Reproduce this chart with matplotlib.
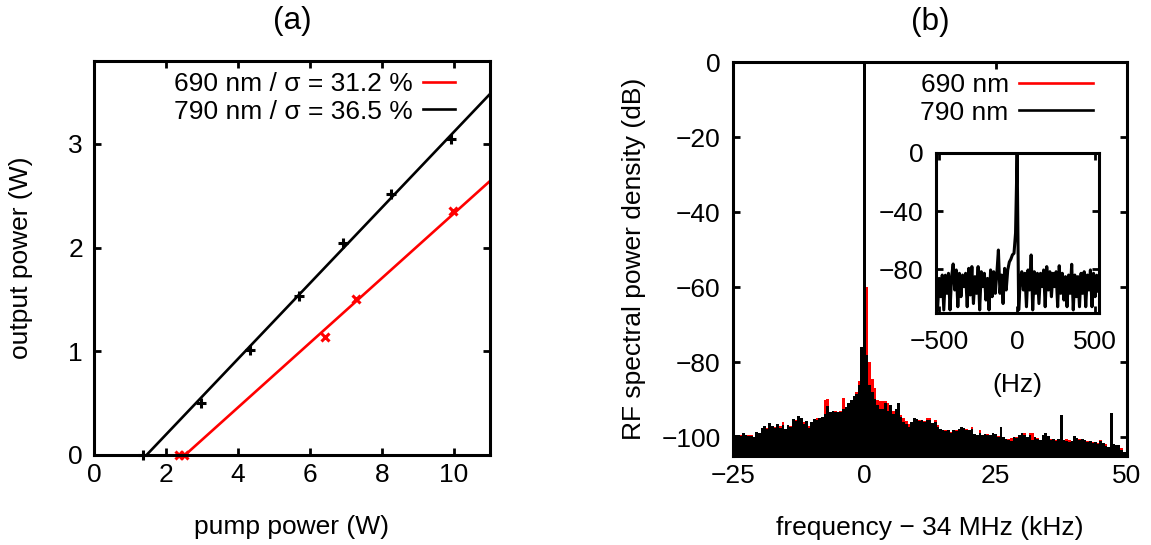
import numpy as np
import matplotlib
matplotlib.use("Agg")
import matplotlib.pyplot as plt
from matplotlib.lines import Line2D

plt.rcParams["font.family"] = ["Liberation Sans", "DejaVu Sans"]
plt.rcParams["font.size"] = 19
plt.rcParams["axes.linewidth"] = 2.2

# panel (a): slope efficiency
pump_790 = [1.37, 2.97, 4.33, 5.69, 6.91, 8.24, 9.91]
out_790 = [0.0, 0.505, 1.01, 1.53, 2.04, 2.52, 3.05]
pump_690 = [2.35, 2.50, 6.43, 7.28, 9.96]
out_690 = [0.0, 0.0, 1.14, 1.50, 2.35]
# linear fits: slope (W/W) and threshold (W)
slope_690, thresh_690 = 0.312, 2.53
slope_790, thresh_790 = 0.365, 1.46

# panel (b): RF spectrum envelope, -25 .. 50 kHz in 0.5 kHz steps
spec_790 = [
    -98.5, -99.5, -99.3, -99.6, -99.0, -99.5, -99.8, -99.6, -100.0, -98.5,
    -99.0, -97.5, -97.0, -97.8, -96.3, -97.0, -97.5, -96.4, -97.5, -96.8,
    -97.8, -96.8, -97.3, -95.2, -95.6, -94.4, -94.8, -96.5, -95.6, -97.5,
    -96.0, -95.2, -95.5, -95.0, -94.7, -93.8, -91.7, -93.2, -93.0, -93.4,
    -93.2, -93.4, -92.5, -92.0, -91.0, -90.1, -89.0, -88.4, -86.0, -76.0,
    0.0, -78.0, -86.0, -88.0, -89.7, -91.5, -92.4, -92.6, -91.0, -93.1,
    -91.4, -93.7, -92.5, -90.9, -94.6, -96.0, -96.5, -97.4, -96.0, -94.8,
    -95.1, -95.7, -95.3, -96.0, -95.5, -95.3, -96.2, -96.0, -97.4, -97.8,
    -98.2, -98.4, -98.0, -98.9, -98.2, -98.4, -97.8, -97.3, -97.6, -98.0,
    -98.2, -97.8, -99.1, -99.5, -98.9, -99.3, -99.1, -99.5, -99.3, -99.0,
    -99.2, -100.0, -97.2, -100.0, -100.5, -100.8, -101.0, -100.0, -100.2, -99.5,
    -99.0, -99.5, -99.9, -99.3, -100.8, -99.9, -100.5, -100.8, -99.5, -99.0,
    -99.8, -100.8, -100.5, -101.0, -100.5, -94.1, -100.8, -101.0, -101.2, -101.0,
    -99.8, -100.3, -100.8, -100.5, -100.8, -101.2, -101.0, -101.5, -101.2, -101.7,
    -101.0, -101.5, -102.3, -102.6, -93.5, -101.7, -102.2, -102.0, -103.5, -104.0,
    -104.5,
]
spec_690 = [
    -98.8, -99.3, -99.8, -99.4, -99.5, -99.8, -99.5, -99.3, -100.2, -99.0,
    -99.3, -97.8, -97.5, -97.6, -96.8, -97.3, -97.2, -96.8, -97.0, -95.9,
    -98.0, -97.0, -97.0, -95.8, -95.4, -94.8, -95.0, -96.0, -96.0, -97.0,
    -96.5, -95.5, -95.0, -95.3, -95.0, -90.0, -89.8, -93.5, -93.3, -93.0,
    -93.5, -93.0, -89.5, -92.3, -91.3, -90.0, -89.3, -88.0, -85.0, -78.0,
    -60.0, -60.0, -80.0, -84.5, -87.0, -90.1, -90.4, -90.3, -90.3, -91.0,
    -91.8, -93.0, -93.0, -92.0, -94.2, -95.0, -95.8, -96.5, -96.3, -95.2,
    -95.5, -95.5, -95.8, -95.8, -95.0, -95.0, -96.5, -95.5, -96.8, -98.0,
    -98.5, -98.2, -98.3, -98.6, -98.5, -98.1, -98.0, -97.6, -97.8, -97.8,
    -98.5, -97.4, -99.3, -99.3, -98.2, -99.5, -99.3, -99.2, -99.6, -99.2,
    -99.5, -99.8, -98.0, -100.2, -100.7, -100.4, -100.2, -100.3, -100.0, -99.8,
    -99.3, -99.0, -100.0, -98.8, -99.0, -100.2, -100.3, -101.0, -99.8, -99.3,
    -100.0, -100.6, -100.8, -100.8, -100.8, -100.6, -101.0, -100.6, -100.8, -101.2,
    -100.2, -100.5, -100.6, -100.8, -101.0, -101.0, -101.3, -101.3, -101.5, -101.5,
    -100.8, -101.8, -101.8, -102.8, -102.0, -102.0, -102.5, -102.3, -103.0, -104.2,
    -104.8,
]
freq_khz = np.linspace(-25, 50, len(spec_790))

# inset: 790 nm, -520 .. 520 Hz in 10 Hz steps
inset_db = [
    -95.0, -107.9, -86.2, -98.8, -83.9, -107.9, -84.0, -96.5, -82.7, -107.9,
    -85.0, -76.3, -94.2, -80.4, -105.7, -82.7, -98.8, -83.9, -91.9, -82.7,
    -105.7, -79.3, -97.6, -78.1, -103.5, -85.0, -96.5, -78.1, -107.9, -81.6,
    -91.9, -82.7, -101.1, -86.2, -107.9, -80.4, -98.8, -81.6, -96.5, -83.0,
    -66.7, -96.5, -83.9, -103.5, -79.3, -94.2, -80.4, -75.0, -73.0, -70.0,
    -69.0, -55.0, 0.0,
    -107.9, -88.0, -81.6, -94.2, -82.7, -105.7, -80.4, -94.2, -70.1, -107.9,
    -81.6, -96.5, -82.7, -103.5, -82.7, -91.9, -80.4, -105.7, -78.1, -94.2,
    -81.6, -98.8, -82.7, -91.9, -81.6, -105.7, -77.5, -96.5, -82.7, -101.1,
    -85.0, -105.7, -83.9, -96.5, -76.5, -107.9, -83.9, -98.8, -85.0, -105.7,
    -82.7, -96.5, -81.6, -105.7, -83.9, -94.2, -80.4, -105.7, -82.7, -98.8,
    -84.0, -95.0,
]
inset_hz = np.linspace(-520, 520, len(inset_db))

W, H = 1151, 545
fig = plt.figure(figsize=(W / 100, H / 100), dpi=100)


def box(l, t, r, b):
    return [l / W, 1 - b / H, (r - l) / W, (b - t) / H]


def style(ax, pad=8):
    ax.tick_params(direction="in", length=5, width=2, top=True, right=True, pad=pad)


# ---- (a)
ax1 = fig.add_axes(box(94, 61, 490, 455))
style(ax1, pad=8)
ax1.tick_params(axis="x", pad=6)
xfit = np.linspace(0, 11, 200)
ax1.plot(xfit, slope_690 * (xfit - thresh_690), color="red", lw=1.9)
ax1.plot(xfit, slope_790 * (xfit - thresh_790), color="black", lw=1.9)
ax1.plot(pump_690, out_690, "x", color="red", ms=6, mew=2.2, clip_on=False)
ax1.plot(pump_790, out_790, "+", color="black", ms=7, mew=2.2, clip_on=False)
ax1.set_xlim(0, 11)
ax1.set_ylim(0, 3.8)
ax1.set_xticks([0, 2, 4, 6, 8, 10])
ax1.set_yticks([0, 1, 2, 3])
ax1.set_xlabel("pump power (W)", labelpad=20)
ax1.set_ylabel("output power (W)", labelpad=25)
ax1.set_title("(a)", pad=23)
h1 = [Line2D([], [], color="red", lw=1.9), Line2D([], [], color="black", lw=1.9)]
ax1.legend(h1, ["690 nm / σ = 31.2 %", "790 nm / σ = 36.5 %"], loc="upper right",
           bbox_to_anchor=(0.912, 0.972), frameon=False, markerfirst=False,
           handlelength=1.2, handletextpad=0.4, labelspacing=0.14, borderpad=0,
           borderaxespad=0)

# ---- (b)
ax2 = fig.add_axes(box(733, 62, 1127, 456))
style(ax2, pad=9)
ax2.tick_params(axis="x", pad=6)
ax2.fill_between(freq_khz, -110, spec_690, step="mid", color="red", lw=0)
ax2.fill_between(freq_khz, -110, spec_790, step="mid", color="black", lw=0)
ax2.set_xlim(-25, 50)
ax2.set_ylim(-105, 0)
ax2.set_xticks([-25, 0, 25, 50])
ax2.set_yticks([0, -20, -40, -60, -80, -100])
ax2.set_xlabel("frequency − 34 MHz (kHz)", labelpad=20)
ax2.set_ylabel("RF spectral power density (dB)", labelpad=11)
ax2.set_title("(b)", pad=23)
h2 = [Line2D([], [], color="red", lw=1.9), Line2D([], [], color="black", lw=1.9)]
ax2.legend(h2, ["690 nm", "790 nm"], loc="upper right", bbox_to_anchor=(0.914, 0.972),
           frameon=False, markerfirst=False, handlelength=2.8, handletextpad=0.4,
           labelspacing=0.14, borderpad=0, borderaxespad=0)

# inset
ax3 = fig.add_axes(box(936, 153, 1099, 313))
style(ax3, pad=9)
ax3.tick_params(axis="x", pad=12)
ax3.plot(inset_hz, inset_db, color="black", lw=2.2)
ax3.set_xlim(-520, 525)
ax3.set_ylim(-110, 0)
ax3.set_xticks([-500, 0, 500])
ax3.set_yticks([0, -40, -80])
ax3.set_xlabel("(Hz)", labelpad=14)

fig.savefig("out.png", dpi=100)
